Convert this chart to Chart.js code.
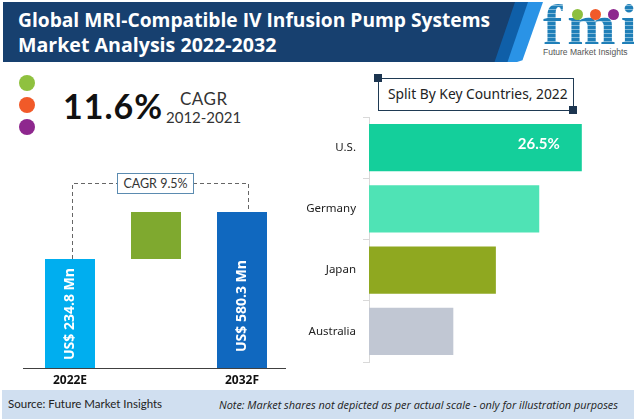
<!DOCTYPE html>
<html>
<head>
<meta charset="utf-8">
<script src="https://cdn.jsdelivr.net/npm/chart.js@4/dist/chart.umd.min.js"></script>
<style>
html, body { margin: 0; padding: 0; background: #fff; }
body { width: 634px; height: 419px; position: relative; overflow: hidden; font-family: "Open Sans", sans-serif; }
.abs { position: absolute; white-space: nowrap; }
canvas { position: absolute; }
#banner1, #banner2, #banner3 { position: absolute; top: 2px; height: 60px; left: 3px; }
#banner3 { width: 540px; background: #2a93e6; clip-path: polygon(0 0, 100% 0, 96.2% 97%, 95.2% 100%, 0 100%); }
#banner2 { width: 525px; background: #0f5fa8; clip-path: polygon(0 0, 100% 0, 96.1% 100%, 0 100%); }
#banner1 { width: 512px; background: #17406f; clip-path: polygon(0 0, 100% 0, 96% 100%, 0 100%); }
#title { left: 18px; top: 7px; color: #fff; font-weight: 700; font-size: 19.2px; line-height: 25px; }
#title span { font-size: 19.6px; }
.dot { position: absolute; width: 16px; height: 16px; border-radius: 50%; left: 19px; }
#logo { left: 543px; top: 2px; font-family: "Liberation Serif", serif; font-weight: 700; font-size: 58px; line-height: 46px; letter-spacing: 5px;
  background: repeating-linear-gradient(#1f7fb8 0 3px, #7fb8d8 3px 4px); -webkit-background-clip: text; background-clip: text; color: transparent; }
#logoText { left: 543px; top: 47px; font-size: 8.5px; color: #555; font-family: "Liberation Sans", sans-serif; }
.logoDot { position: absolute; width: 11px; height: 11px; border-radius: 50%; top: 9px; }
#splitBox { position: absolute; left: 378px; top: 78px; width: 194px; height: 31px; border: 1px solid #1f3a54; }
#splitText { left: 388px; top: 84px; font-size: 13.8px; color: #222; font-family: "Noto Sans", sans-serif; }
.sq { position: absolute; width: 8px; height: 8px; background: #1c3550; }
#cagrBox { position: absolute; left: 117px; top: 173px; width: 75px; height: 19px; border: 1px solid #5b8bb0; background: #fff; text-align: center; font-size: 12.5px; line-height: 19px; color: #333; font-family: "Lato", sans-serif; z-index: 2; }
#footer { position: absolute; left: 2px; top: 390px; width: 632px; height: 29px; background: #d0dff0; }
</style>
</head>
<body>
<div id="banner3"></div>
<div id="banner2"></div>
<div id="banner1"></div>
<div id="title" class="abs">Global MRI-Compatible IV Infusion Pump Systems<br><span>Market Analysis 2022-2032</span></div>

<div id="logo" class="abs">fmi</div>
<div class="logoDot" style="left:572px;background:#8dbf3f"></div>
<div class="logoDot" style="left:590px;background:#f15a29"></div>
<div class="logoDot" style="left:608px;background:#8e278e"></div>
<div id="logoText" class="abs">Future Market Insights</div>

<div class="dot" style="top:75px;background:#8fc13f"></div>
<div class="dot" style="top:97px;background:#f15a29"></div>
<div class="dot" style="top:119px;background:#8e278e"></div>
<div class="abs" style="left:63px;top:85px;font:700 34px Lato,sans-serif;color:#111;letter-spacing:1px">11.6%</div>
<div class="abs" style="left:180px;top:88px;font:400 17px Lato,sans-serif;color:#333;letter-spacing:.5px">CAGR</div>
<div class="abs" style="left:166px;top:108px;font:400 15px Lato,sans-serif;color:#333">2012-2021</div>

<div id="splitBox"></div>
<div class="sq" style="left:374px;top:74px"></div>
<div class="sq" style="left:569px;top:106px"></div>
<div id="splitText" class="abs">Split By Key Countries, 2022</div>

<div id="cagrBox">CAGR 9.5%</div>

<canvas id="marketChart" style="left:0;top:160px;width:300px;height:230px"></canvas>
<canvas id="countryChart" style="left:300px;top:100px;width:334px;height:280px"></canvas>

<div id="footer"></div>
<div class="abs" style="left:8px;top:397px;font:400 11.5px Lato,sans-serif;color:#222">Source: Future Market Insights</div>
<div class="abs" style="left:219px;top:397px;font:italic 400 10.9px 'Open Sans',sans-serif;color:#222">Note: Market shares not depicted as per actual scale - only for illustration purposes</div>

<script>
// Left chart: bar levels as drawn (not to scale with their labels)
const marketLabels = ['2022E', '', '2032F'];
const marketStart = [0, 109, 0];
const marketEnd = [109, 156, 156];
const marketText = ['US$ 234.8 Mn', '', 'US$ 580.3 Mn'];
const marketColors = ['#00aeef', '#7fa92f', '#1068bf'];

// Right chart
const countries = ['U.S.', 'Germany', 'Japan', 'Australia'];
const shares = [26.5, 21.2, 15.8, 10.5];
const shareText = ['26.5%', '', '', ''];
const countryColors = ['#14cf9b', '#4fe3b5', '#8fa820', '#c1c7d3'];

const marketOverlay = {
    id: 'marketOverlay',
    afterDatasetsDraw(chart) {
        const ctx = chart.ctx;
        const bars = chart.getDatasetMeta(0).data;
        const area = chart.chartArea;
        // axis line
        ctx.save();
        ctx.strokeStyle = '#404040';
        ctx.lineWidth = 1;
        ctx.beginPath();
        ctx.moveTo(area.left - 4, area.bottom + 0.5);
        ctx.lineTo(area.right + 1, area.bottom + 0.5);
        ctx.stroke();
        // dashed CAGR bracket
        const lineY = 23.5;
        ctx.strokeStyle = '#666';
        ctx.setLineDash([4, 3]);
        ctx.beginPath();
        ctx.moveTo(Math.round(bars[0].x) + 2.5, bars[0].y);
        ctx.lineTo(Math.round(bars[0].x) + 2.5, lineY);
        ctx.lineTo(Math.round(bars[2].x) + 6.5, lineY);
        ctx.lineTo(Math.round(bars[2].x) + 6.5, bars[2].y);
        ctx.stroke();
        ctx.setLineDash([]);
        // value text inside the bars, read upwards from just above the axis
        ctx.fillStyle = '#fff';
        ctx.font = '700 14px "Open Sans", sans-serif';
        ctx.textAlign = 'left';
        ctx.textBaseline = 'middle';
        bars.forEach((bar, i) => {
            if (!marketText[i]) return;
            ctx.save();
            ctx.translate(bar.x, area.bottom - (i === 0 ? 8 : 16));
            ctx.rotate(-Math.PI / 2);
            ctx.fillText(marketText[i], 0, 0);
            ctx.restore();
        });
        ctx.restore();
    }
};

const shareLabels = {
    id: 'shareLabels',
    afterDatasetsDraw(chart) {
        const ctx = chart.ctx;
        const bars = chart.getDatasetMeta(0).data;
        ctx.save();
        ctx.fillStyle = '#fff';
        ctx.font = '700 15px Lato, sans-serif';
        ctx.textAlign = 'right';
        ctx.textBaseline = 'middle';
        bars.forEach((bar, i) => {
            if (shareText[i]) ctx.fillText(shareText[i], bar.x - 22, bar.y - 3);
        });
        ctx.restore();
    }
};

new Chart(document.querySelector('#marketChart').getContext('2d'), {
    type: 'bar',
    data: {
        labels: marketLabels,
        datasets: [{
            data: marketStart.map((s, i) => [s, marketEnd[i]]),
            backgroundColor: marketColors,
            borderWidth: 0,
            categoryPercentage: 1,
            barPercentage: 50 / 86
        }]
    },
    options: {
        responsive: false,
        animation: false,
        layout: { padding: { left: 27, right: 15, top: 8, bottom: 0 } },
        plugins: { legend: { display: false }, tooltip: { enabled: false } },
        scales: {
            x: {
                grid: { display: false },
                border: { display: false },
                ticks: { color: '#111', font: { family: '"Open Sans", sans-serif', size: 12, weight: '700' }, padding: -3, maxRotation: 0 },
                afterFit(scale) { scale.height = 22; }
            },
            y: { display: false, min: 0, max: 200 }
        }
    },
    plugins: [marketOverlay]
});

new Chart(document.querySelector('#countryChart').getContext('2d'), {
    type: 'bar',
    data: {
        labels: countries,
        datasets: [{
            data: shares,
            backgroundColor: countryColors,
            borderWidth: 0,
            categoryPercentage: 1,
            barPercentage: 0.775
        }]
    },
    options: {
        indexAxis: 'y',
        responsive: false,
        animation: false,
        layout: { padding: { top: 17, bottom: 18, left: 0, right: 0 } },
        plugins: { legend: { display: false }, tooltip: { enabled: false } },
        scales: {
            x: { display: false, min: 0, max: 33 },
            y: {
                grid: { display: true, drawOnChartArea: false, drawTicks: true, tickLength: 6, offset: true, color: '#d9d9d9' },
                border: { color: '#d9d9d9' },
                ticks: { color: '#222', font: { family: '"Noto Sans", sans-serif', size: 11.5 }, padding: 7 },
                afterFit(scale) { scale.width = 69; }
            }
        }
    },
    plugins: [shareLabels]
});
</script>
</body>
</html>
